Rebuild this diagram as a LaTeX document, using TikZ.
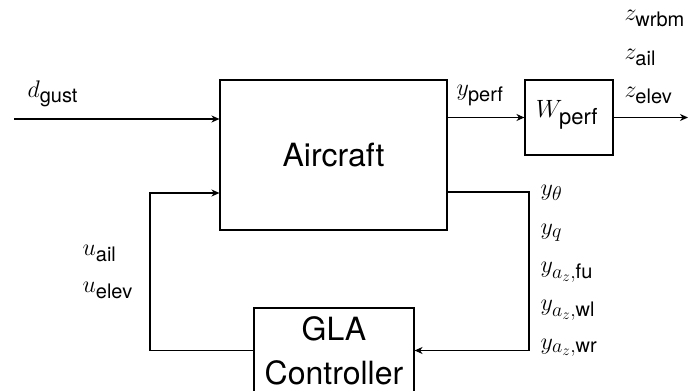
\RequirePackage{fix-cm}
\documentclass[tikz,border=0pt]{standalone}
\usepackage{amsmath}
\usepackage{fontspec}
\setsansfont{TeX Gyre Heros}
\DeclareMathSizes{24}{24}{20}{15}
\DeclareMathSizes{25}{25}{22}{16}
\usetikzlibrary{arrows.meta}
\begin{document}
\begin{tikzpicture}[x=1pt,y=-1pt,line width=1.1pt,
  block/.style={draw,rectangle,inner sep=0pt,align=center,font=\fontsize{32}{44}\selectfont\sffamily},
  lbl/.style={anchor=base west,inner sep=0pt,font=\fontsize{24}{28}\selectfont},
  sig/.style={-{Stealth[length=8pt,width=7pt,inset=2.5pt]}}]
\useasboundingbox (0,0) rectangle (689,391);
% blocks
\node[block,minimum width=227pt,minimum height=150pt] (aircraft) at (333.5,155) {Aircraft};
\node[block,minimum width=88pt,minimum height=75pt] (wperf) at (569,117.5) {};
\node[anchor=base,inner sep=0pt,font=\fontsize{25}{30}\selectfont] (wtext) at (567,117) {$W_{\textsf{perf}}$};
\node[block,minimum width=160pt,minimum height=85pt] (gla) at (334,350.5) {GLA\\Controller};
% coordinates
\coordinate (din) at (14,119);
\coordinate (zout) at (688,118);
\coordinate (fb) at (529,192);
\coordinate (uin) at (150,193);
% connectors
\draw[sig] (din) -- (din -| aircraft.west);
\draw[sig] (aircraft.east |- wperf.west) -- (wperf.west);
\draw[sig] (wperf.east) -- (zout |- wperf.east);
\draw[sig] (aircraft.east |- fb) -- (fb) |- (gla.east);
\draw[sig] (gla.west) -| (uin) -- (uin -| aircraft.west);
% labels
\node[lbl] (ldg) at (27,97) {$d_{\textsf{gust}}$};
\node[lbl] (lyp) at (456,95) {$y_{\textsf{perf}}$};
\node[lbl] (lz1) at (624,20) {$z_{\textsf{wrbm}}$};
\node[lbl] (lz2) at (624,59) {$z_{\textsf{ail}}$};
\node[lbl] (lz3) at (624,97) {$z_{\textsf{elev}}$};
\node[lbl] (ly1) at (540,195) {$y_\theta$};
\node[lbl] (ly2) at (540,234) {$y_q$};
\node[lbl] (ly3) at (540,272) {$y_{a_z,\textsf{fu}}$};
\node[lbl] (ly4) at (540,310) {$y_{a_z,\textsf{wl}}$};
\node[lbl] (ly5) at (540,349) {$y_{a_z,\textsf{wr}}$};
\node[lbl] (lu1) at (82,255) {$u_{\textsf{ail}}$};
\node[lbl] (lu2) at (82,292) {$u_{\textsf{elev}}$};
\end{tikzpicture}
\end{document}
